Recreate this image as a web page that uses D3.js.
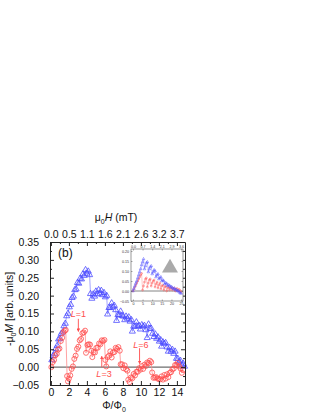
<!DOCTYPE html>
<html>
<head>
<meta charset="utf-8">
<script src="https://cdn.jsdelivr.net/npm/d3@7"></script>
<style>
  body { margin: 0; background: #fff; }
  svg { font-family: "Liberation Sans", Arial, sans-serif; }
</style>
</head>
<body>
<div id="chart-area"></div>
<script>
// main panel data (Phi/Phi0 vs -mu0 M)
const blueX = [0.10, 0.25, 0.40, 0.55, 0.70, 0.85, 1.00, 1.15, 1.30, 1.45, 1.60, 1.75, 1.90, 2.05, 2.20, 2.35, 2.50, 2.65, 2.80, 2.95,
  3.10, 3.25, 3.40, 3.55, 3.70, 3.85, 4.00, 4.15, 4.30, 4.40, 4.55, 4.70, 4.85, 5.00, 5.15, 5.30, 5.45, 5.60, 5.75, 5.90,
  6.05, 6.20, 6.30, 6.45, 6.60, 6.75, 6.90, 7.05, 7.20, 7.30, 7.45, 7.60, 7.75, 7.90, 8.05, 8.20, 8.35, 8.50, 8.65, 8.80,
  8.95, 9.05, 9.20, 9.35, 9.50, 9.65, 9.80, 9.95, 10.10, 10.25, 10.40, 10.55, 10.70, 10.85, 11.00, 11.15, 11.30, 11.45, 11.60, 11.75,
  11.90, 12.05, 12.20, 12.30, 12.45, 12.60, 12.75, 12.90, 13.05, 13.20, 13.35, 13.50, 13.65, 13.80, 13.95, 14.10, 14.25, 14.40, 14.55, 14.70, 14.85]
const blueY = [0.020, 0.032, 0.038, 0.052, 0.060, 0.078, 0.080, 0.094, 0.098, 0.115, 0.122, 0.143, 0.150, 0.168, 0.175, 0.194, 0.198, 0.216, 0.218, 0.236,
  0.234, 0.248, 0.246, 0.260, 0.256, 0.272, 0.262, 0.268, 0.258, 0.205, 0.192, 0.204, 0.198, 0.212, 0.204, 0.216, 0.206, 0.214, 0.202, 0.208,
  0.196, 0.200, 0.148, 0.166, 0.166, 0.179, 0.168, 0.172, 0.160, 0.130, 0.146, 0.146, 0.156, 0.144, 0.142, 0.132, 0.142, 0.136, 0.140, 0.128,
  0.132, 0.100, 0.114, 0.114, 0.126, 0.114, 0.116, 0.106, 0.118, 0.114, 0.116, 0.104, 0.082, 0.120, 0.108, 0.108, 0.094, 0.085, 0.092, 0.080,
  0.084, 0.072, 0.076, 0.058, 0.070, 0.066, 0.068, 0.056, 0.044, 0.054, 0.044, 0.049, 0.038, 0.044, 0.024, 0.024, 0.014, 0.018, 0.006, 0.010, 0.002]

const redX = [0.05, 0.20, 0.35, 0.50, 0.65, 0.80, 0.95, 1.10, 1.25, 1.40, 1.55, 1.65, 1.80, 1.90, 2.00, 2.15, 2.30, 2.45, 2.60, 2.75,
  2.90, 3.05, 3.20, 3.35, 3.50, 3.65, 3.80, 3.90, 4.05, 4.20, 4.35, 4.50, 4.60, 4.75, 4.90, 5.05, 5.20, 5.35, 5.50, 5.65,
  5.80, 5.95, 6.05, 6.15, 6.30, 6.45, 6.60, 6.75, 6.90, 7.05, 7.20, 7.35, 7.50, 7.65, 7.75, 7.90, 8.05, 8.20, 8.35, 8.50,
  8.60, 8.75, 8.90, 9.05, 9.20, 9.35, 9.50, 9.65, 9.80, 9.95, 10.10, 10.25, 10.40, 10.55, 10.70, 10.85, 11.00, 11.15, 11.25, 11.40,
  11.55, 11.70, 11.85, 12.00, 12.15, 12.30, 12.45, 12.60, 12.75, 12.90, 13.05, 13.20, 13.35, 13.50, 13.65, 13.80, 13.95, 14.10, 14.25, 14.40, 14.55, 14.70]
const redY = [0.000, 0.014, 0.020, 0.033, 0.037, 0.049, 0.052, 0.073, 0.082, 0.098, 0.102, 0.104, -0.025, -0.040, -0.032, -0.023, -0.005, 0.002, 0.023, 0.032,
  0.051, 0.057, 0.075, 0.079, 0.095, 0.097, 0.102, 0.040, 0.062, 0.064, 0.063, 0.046, 0.028, 0.042, 0.041, 0.054, 0.054, 0.066, 0.064, 0.075,
  0.073, 0.076, 0.020, 0.002, 0.028, 0.032, 0.044, 0.027, 0.041, 0.042, 0.054, 0.051, 0.056, 0.046, 0.008, 0.008, -0.003, 0.005, -0.006, -0.010,
  -0.035, -0.042, -0.029, -0.031, -0.019, -0.023, -0.013, -0.013, -0.003, -0.007, 0.003, -0.005, 0.007, 0.003, 0.013, 0.011, 0.018, 0.014, -0.015, -0.030,
  -0.029, -0.028, -0.032, -0.033, -0.034, -0.026, -0.035, -0.022, -0.032, -0.020, -0.028, -0.016, -0.014, -0.006, -0.004, 0.006, 0.006, 0.012, 0.002, -0.004, -0.016, -0.008]

// tick labels
const xTicks = [0, 2, 4, 6, 8, 10, 12, 14]
const fieldLabels = ['0.0', '0.5', '1.1', '1.6', '2.1', '2.6', '3.2', '3.7']
const yTicks = [-0.05, 0, 0.05, 0.10, 0.15, 0.20, 0.25, 0.30, 0.35]

// inset data
const insetX = [0, 0.5, 1, 1.5, 2, 2.5, 3, 3.5, 4, 4.5, 5, 5.5, 6, 6.5, 7, 7.5, 8, 8.5, 9, 9.5, 10, 10.5, 11, 11.5, 12, 12.5,
  13, 13.5, 14, 14.5, 15, 15.5, 16, 16.5, 17, 17.5, 18, 18.5, 19, 19.5, 20, 20.5, 21, 21.5, 22, 22.5, 23, 23.5, 24, 24.5, 25]
const insetBlue = [0.0, 0.012, 0.025, 0.038, 0.05, 0.065, 0.08, 0.095, 0.11, 0.13, 0.145, 0.16, 0.11, 0.125, 0.14, 0.145, 0.095, 0.11, 0.12, 0.125,
  0.085, 0.095, 0.105, 0.1, 0.07, 0.08, 0.085, 0.06, 0.065, 0.07, 0.05, 0.055, 0.05, 0.035, 0.04, 0.038, 0.025, 0.03, 0.028, 0.018,
  0.022, 0.015, 0.01, 0.014, 0.005, 0.008, 0.0, 0.002, -0.005, -0.01, -0.012]
const insetRed = [0.0, 0.01, 0.02, 0.03, 0.04, 0.05, 0.06, 0.07, 0.08, 0.088, 0.005, 0.025, 0.045, 0.06, 0.065, 0.02, 0.04, 0.055, 0.06, 0.025,
  0.04, 0.05, 0.055, 0.02, 0.035, 0.045, 0.015, 0.03, 0.04, 0.01, 0.025, 0.03, 0.005, 0.02, 0.025, 0.0, 0.015, 0.02, 0.005, 0.015,
  0.018, 0.005, 0.012, 0.015, 0.0, 0.01, 0.012, 0.0, 0.008, 0.002, -0.005]
const insetXTicks = [0, 5, 10, 15, 20, 25]
const insetFieldLabels = ['0.0', '0.7', '1.4', '2.1', '2.9', '3.6']
const insetYTicks = [-0.05, 0, 0.05, 0.10, 0.15, 0.20]

const blue = '#4d4dff', blueLine = '#8c8cff'
const red = '#ff4d4d', redLine = '#ff8c8c'

const plot = { left: 50, right: 185, top: 242, bottom: 385 }

const svg = d3.select('#chart-area').append('svg')
    .attr('width', 322)
    .attr('height', 416)

const xScale = d3.scaleLinear().domain([-0.1, 14.9]).range([plot.left, plot.right])
const yScale = d3.scaleLinear().domain([-0.05, 0.35]).range([plot.bottom, plot.top])

const g = svg.append('g')

// zero line
g.append('line')
    .attr('x1', plot.left).attr('x2', plot.right)
    .attr('y1', yScale(0)).attr('y2', yScale(0))
    .attr('stroke', '#6e6e6e').attr('stroke-width', 1.2)

// series
function drawSeries(parent, xs, ys, xs_, ys_, color, lineColor, kind, size, lw) {
  const pts = xs.map((x, i) => [x, ys[i]])
  parent.append('path')
      .datum(pts)
      .attr('fill', 'none')
      .attr('stroke', lineColor)
      .attr('stroke-width', lw)
      .attr('d', d3.line().x(d => xs_(d[0])).y(d => ys_(d[1])))
  if (kind === 'circle') {
    parent.selectAll(null).data(pts).enter().append('circle')
        .attr('cx', d => xs_(d[0])).attr('cy', d => ys_(d[1]))
        .attr('r', size)
        .attr('fill', 'none').attr('stroke', color).attr('stroke-width', lw)
  } else {
    const sym = d3.symbol().type(d3.symbolTriangle).size(size)
    parent.selectAll(null).data(pts).enter().append('path')
        .attr('d', sym)
        .attr('transform', d => `translate(${xs_(d[0])},${ys_(d[1])})`)
        .attr('fill', 'none').attr('stroke', color).attr('stroke-width', lw)
  }
}

drawSeries(g, blueX, blueY, xScale, yScale, blue, blueLine, 'tri', 16, 0.8)
drawSeries(g, redX, redY, xScale, yScale, red, redLine, 'circle', 2.5, 0.8)

// axes: ticks pointing inward on all four sides
const fs = '10.5px'
function styleAxis(sel) {
  sel.selectAll('path.domain').attr('stroke', '#222')
  sel.selectAll('line').attr('stroke', '#222')
  sel.selectAll('text').attr('font-size', fs).attr('fill', '#111')
    .attr('font-family', '"Liberation Sans", Arial, sans-serif')
}

const xMinor = d3.range(1, 15, 2)
const yMinor = d3.range(-0.025, 0.35, 0.05)

const xBottom = g.append('g').attr('transform', `translate(0,${plot.bottom})`)
    .call(d3.axisBottom(xScale).tickValues(xTicks).tickSizeInner(-4).tickSizeOuter(0).tickPadding(4).tickFormat(d3.format('d')))
xBottom.selectAll('text').attr('dy', '0.71em').attr('y', 4)
styleAxis(xBottom)
g.append('g').attr('transform', `translate(0,${plot.bottom})`)
    .call(d3.axisBottom(xScale).tickValues(xMinor).tickSize(-2).tickFormat(''))
    .call(s => s.select('.domain').remove()).call(styleAxis)

const xTop = g.append('g').attr('transform', `translate(0,${plot.top})`)
    .call(d3.axisTop(xScale).tickValues(xTicks).tickSizeInner(-4).tickSizeOuter(0).tickPadding(4)
      .tickFormat((d, i) => fieldLabels[i]))
styleAxis(xTop)
g.append('g').attr('transform', `translate(0,${plot.top})`)
    .call(d3.axisTop(xScale).tickValues(xMinor).tickSize(-2).tickFormat(''))
    .call(s => s.select('.domain').remove()).call(styleAxis)

const yLeft = g.append('g').attr('transform', `translate(${plot.left},0)`)
    .call(d3.axisLeft(yScale).tickValues(yTicks).tickSizeInner(-4).tickSizeOuter(0).tickPadding(11).tickFormat(d3.format('.2f')))
styleAxis(yLeft)
g.append('g').attr('transform', `translate(${plot.left},0)`)
    .call(d3.axisLeft(yScale).tickValues(yMinor).tickSize(-2).tickFormat(''))
    .call(s => s.select('.domain').remove()).call(styleAxis)

const yRight = g.append('g').attr('transform', `translate(${plot.right},0)`)
    .call(d3.axisRight(yScale).tickValues(yTicks).tickSizeInner(-4).tickSizeOuter(0).tickFormat(''))
styleAxis(yRight)
g.append('g').attr('transform', `translate(${plot.right},0)`)
    .call(d3.axisRight(yScale).tickValues(yMinor).tickSize(-2).tickFormat(''))
    .call(s => s.select('.domain').remove()).call(styleAxis)

// axis titles
const topTitle = svg.append('text').attr('x', 116).attr('y', 221)
    .attr('text-anchor', 'middle').attr('font-size', fs).attr('fill', '#111')
topTitle.append('tspan').text('μ')
topTitle.append('tspan').text('0').attr('font-size', '7px').attr('dy', 3)
topTitle.append('tspan').text('H').attr('font-style', 'italic').attr('dy', -3)
topTitle.append('tspan').text(' (mT)')

const xTitle = svg.append('text').attr('x', 114).attr('y', 409)
    .attr('text-anchor', 'middle').attr('font-size', fs).attr('fill', '#111')
xTitle.append('tspan').text('Φ/Φ')
xTitle.append('tspan').text('0').attr('font-size', '7px').attr('dy', 3)

const yTitle = svg.append('text')
    .attr('transform', 'translate(13,309) rotate(-90)')
    .attr('text-anchor', 'middle').attr('font-size', fs).attr('fill', '#111')
yTitle.append('tspan').text('-μ')
yTitle.append('tspan').text('0').attr('font-size', '7px').attr('dy', 3)
yTitle.append('tspan').text('M').attr('font-style', 'italic').attr('dy', -3)
yTitle.append('tspan').text(' [arb. units]')

svg.append('text').attr('x', 58).attr('y', 257).attr('font-size', '12px').attr('fill', '#111').text('(b)')

// L annotations
const notes = [
  { text: '1', x: 3.05, y: 0.150, ax: 3.05, ay0: 0.135, ay1: 0.100 },
  { text: '3', x: 5.9, y: -0.018, ax: 5.65, ay0: 0.000, ay1: 0.030 },
  { text: '6', x: 10.0, y: 0.063, ax: 9.85, ay0: 0.053, ay1: 0.010 }
]
svg.append('defs').append('marker')
    .attr('id', 'arr').attr('viewBox', '0 0 6 6').attr('refX', 5).attr('refY', 3)
    .attr('markerWidth', 4).attr('markerHeight', 4).attr('orient', 'auto')
  .append('path').attr('d', 'M0,0L6,3L0,6Z').attr('fill', red)
notes.forEach(n => {
  const t = svg.append('text').attr('x', xScale(n.x)).attr('y', yScale(n.y) + 3)
      .attr('text-anchor', 'middle').attr('font-size', '9px').attr('fill', red)
  t.append('tspan').text('L').attr('font-style', 'italic')
  t.append('tspan').text('=' + n.text)
  svg.append('line')
      .attr('x1', xScale(n.ax)).attr('x2', xScale(n.ax))
      .attr('y1', yScale(n.ay0)).attr('y2', yScale(n.ay1))
      .attr('stroke', red).attr('stroke-width', 0.9).attr('marker-end', 'url(#arr)')
})

// inset
const ins = { left: 131, right: 183, top: 249, bottom: 301 }
const ix = d3.scaleLinear().domain([-1, 26]).range([ins.left, ins.right])
const iy = d3.scaleLinear().domain([-0.05, 0.21]).range([ins.bottom, ins.top])
const ig = svg.append('g')
ig.append('rect').attr('x', ins.left).attr('y', ins.top)
    .attr('width', ins.right - ins.left).attr('height', ins.bottom - ins.top)
    .attr('fill', '#fff').attr('stroke', '#555').attr('stroke-width', 0.6)
ig.append('line').attr('x1', ins.left).attr('x2', ins.right)
    .attr('y1', iy(0)).attr('y2', iy(0)).attr('stroke', '#666').attr('stroke-width', 0.8)
ig.append('path')
    .attr('d', d3.symbol().type(d3.symbolTriangle).size(110))
    .attr('transform', 'translate(170,268)').attr('fill', '#aaaaaa')
drawSeries(ig, insetX, insetRed, ix, iy, red, redLine, 'circle', 0.9, 0.5)
drawSeries(ig, insetX, insetBlue, ix, iy, blue, blueLine, 'tri', 3, 0.5)

function styleInset(sel) {
  sel.selectAll('path.domain').remove()
  sel.selectAll('line').attr('stroke', '#555').attr('stroke-width', 0.5)
  sel.selectAll('text').attr('font-size', '3.6px').attr('fill', '#333')
}
ig.append('g').attr('transform', `translate(0,${ins.bottom})`)
    .call(d3.axisBottom(ix).tickValues(insetXTicks).tickSize(-1.5).tickPadding(1.5).tickFormat(d3.format('d')))
    .call(styleInset)
ig.append('g').attr('transform', `translate(0,${ins.top})`)
    .call(d3.axisTop(ix).tickValues(insetXTicks).tickSize(-1.5).tickPadding(1.5).tickFormat((d, i) => insetFieldLabels[i]))
    .call(styleInset)
ig.append('g').attr('transform', `translate(${ins.left},0)`)
    .call(d3.axisLeft(iy).tickValues(insetYTicks).tickSize(-1.5).tickPadding(2).tickFormat(d3.format('.2f')))
    .call(styleInset)
ig.append('g').attr('transform', `translate(${ins.right},0)`)
    .call(d3.axisRight(iy).tickValues(insetYTicks).tickSize(-1.5).tickFormat(''))
    .call(styleInset)
</script>
</body>
</html>
